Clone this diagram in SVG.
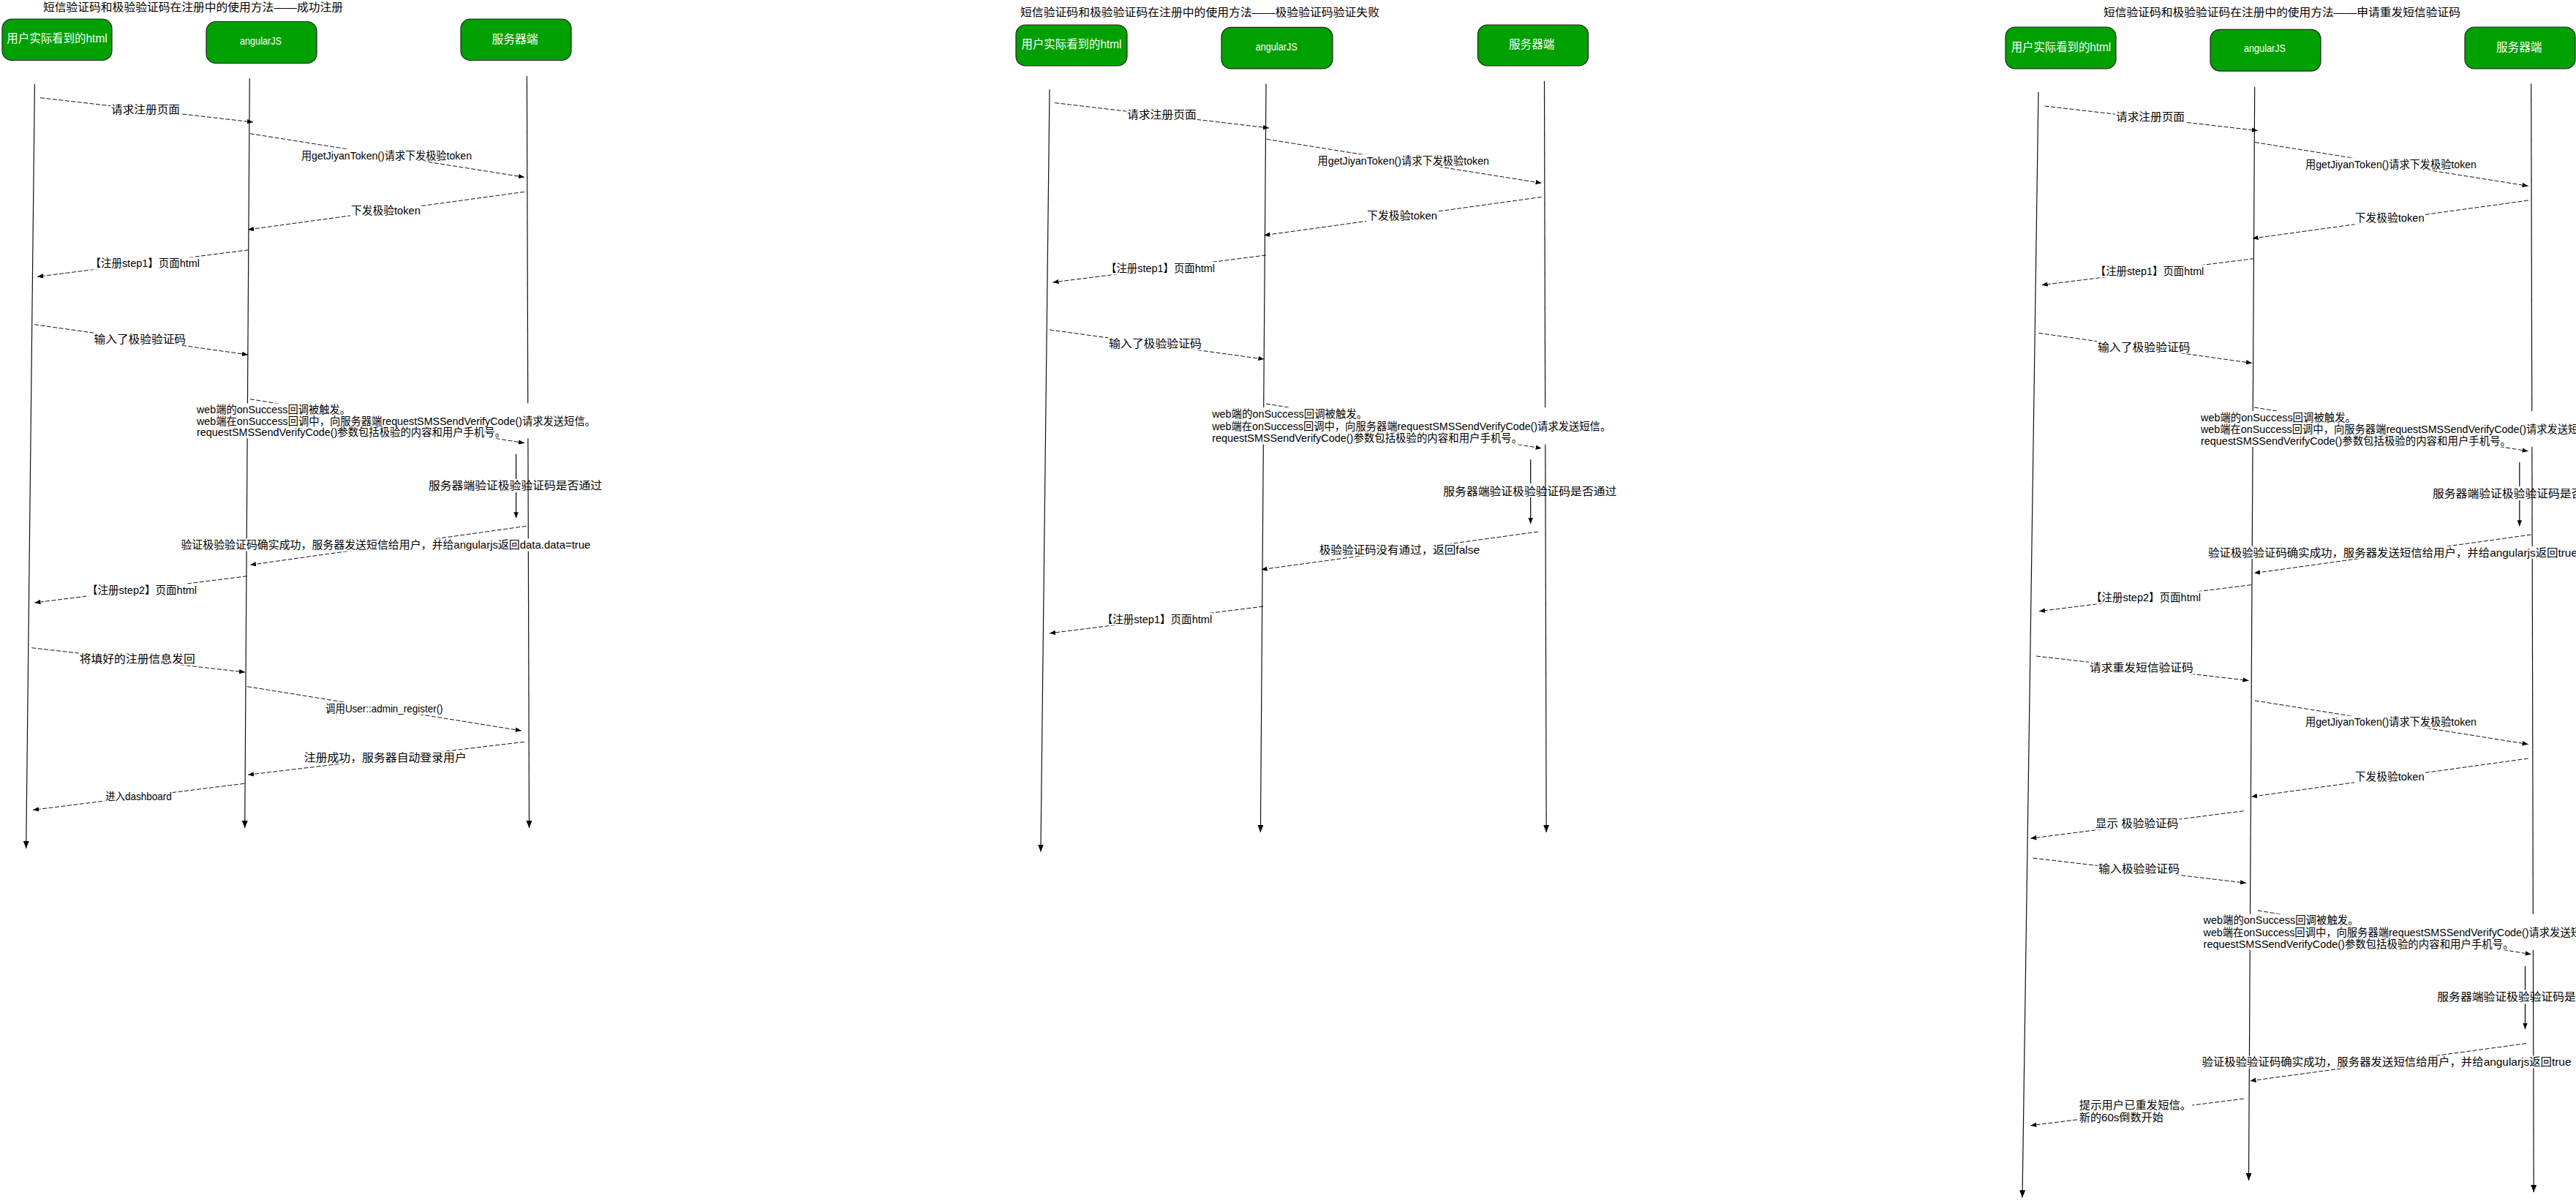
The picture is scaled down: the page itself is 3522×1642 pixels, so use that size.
<svg xmlns="http://www.w3.org/2000/svg" width="3522" height="1642" viewBox="0 0 3522 1642">
<style>
text{font-family:"Liberation Sans","Noto Sans CJK SC",sans-serif}
.ttl{font-size:14.5px;fill:#000}
.lbl{font-size:14.5px;fill:#000}
.ntxt{font-size:16px;fill:#fff}
.ntxt2{font-size:14px;fill:#fff}
.node rect{fill:#00a000;stroke:#222;stroke-width:1.2}
.life{stroke:#111;stroke-width:1.2;fill:none}
.msg{stroke:#111;stroke-width:1;stroke-dasharray:6 2.5;fill:none}
.chk{stroke:#000;stroke-width:1.2;fill:none}
.bg{fill:#fff}
</style>
<defs>
<marker id="ah" viewBox="0 0 10 8" refX="10" refY="4" markerWidth="8" markerHeight="7" markerUnits="userSpaceOnUse" orient="auto"><path d="M0,0 L10,4 L0,8 z" fill="#000"/></marker>
<marker id="lh" viewBox="0 0 10 8" refX="10" refY="4" markerWidth="10" markerHeight="8" markerUnits="userSpaceOnUse" orient="auto"><path d="M0,0 L10,4 L0,8 z" fill="#000"/></marker>
</defs>
<rect width="3522" height="1642" fill="#fff"/>

<g id="titles">
<text class="ttl" x="59" y="15.3" textLength="410" lengthAdjust="spacingAndGlyphs">短信验证码和极验验证码在注册中的使用方法——成功注册</text>
<text class="ttl" x="1395" y="22.4" textLength="491" lengthAdjust="spacingAndGlyphs">短信验证码和极验验证码在注册中的使用方法——极验验证码验证失败</text>
<text class="ttl" x="2876" y="22.3" textLength="488" lengthAdjust="spacingAndGlyphs">短信验证码和极验验证码在注册中的使用方法——申请重发短信验证码</text>
</g>

<g id="d1-user" class="node"><rect x="3" y="26" width="150" height="56.5" rx="13" ry="13"/><text class="ntxt" x="9.3" y="58" textLength="137.4" lengthAdjust="spacingAndGlyphs">用户实际看到的html</text></g>
<g id="d1-angular" class="node"><rect x="282" y="29.5" width="151" height="57" rx="13" ry="13"/><text class="ntxt2" x="328" y="61" textLength="57" lengthAdjust="spacingAndGlyphs">angularJS</text></g>
<g id="d1-server" class="node"><rect x="630" y="26" width="151" height="56.5" rx="13" ry="13"/><text class="ntxt" x="672.4" y="58.8" textLength="63.3" lengthAdjust="spacingAndGlyphs">服务器端</text></g>

<g id="d2-user" class="node"><rect x="1389" y="34" width="152" height="56" rx="13" ry="13"/><text class="ntxt" x="1396.5" y="66.2" textLength="137" lengthAdjust="spacingAndGlyphs">用户实际看到的html</text></g>
<g id="d2-angular" class="node"><rect x="1670" y="37.4" width="152" height="56.5" rx="13" ry="13"/><text class="ntxt2" x="1716.7" y="68.7" textLength="57" lengthAdjust="spacingAndGlyphs">angularJS</text></g>
<g id="d2-server" class="node"><rect x="2020.5" y="34" width="151" height="56" rx="13" ry="13"/><text class="ntxt" x="2063" y="66.2" textLength="62.5" lengthAdjust="spacingAndGlyphs">服务器端</text></g>

<g id="d3-user" class="node"><rect x="2742" y="37" width="151" height="57" rx="13" ry="13"/><text class="ntxt" x="2749.7" y="70.4" textLength="136.6" lengthAdjust="spacingAndGlyphs">用户实际看到的html</text></g>
<g id="d3-angular" class="node"><rect x="3022" y="40.4" width="151" height="56.7" rx="13" ry="13"/><text class="ntxt2" x="3068" y="70.9" textLength="57" lengthAdjust="spacingAndGlyphs">angularJS</text></g>
<g id="d3-server" class="node"><rect x="3370" y="37" width="151" height="57" rx="13" ry="13"/><text class="ntxt" x="3413" y="70.4" textLength="62.5" lengthAdjust="spacingAndGlyphs">服务器端</text></g>

<g id="lifelines">
<line class="life" x1="47.4" y1="115" x2="35.7" y2="1160" marker-end="url(#lh)"/>
<line class="life" x1="341.3" y1="107" x2="334.7" y2="1132" marker-end="url(#lh)"/>
<line class="life" x1="720.4" y1="104" x2="723.5" y2="1132" marker-end="url(#lh)"/>
<line class="life" x1="1435" y1="122.3" x2="1422.9" y2="1164.6" marker-end="url(#lh)"/>
<line class="life" x1="1731" y1="114.6" x2="1723.4" y2="1137.9" marker-end="url(#lh)"/>
<line class="life" x1="2111.5" y1="110.8" x2="2114.2" y2="1137.9" marker-end="url(#lh)"/>
<line class="life" x1="2787" y1="125.7" x2="2765" y2="1637.3" marker-end="url(#lh)"/>
<line class="life" x1="3082.7" y1="118.9" x2="3074.5" y2="1614" marker-end="url(#lh)"/>
<line class="life" x1="3460.7" y1="114.3" x2="3464.2" y2="1630" marker-end="url(#lh)"/>
</g>

<g id="connectors">
<!-- diagram 1 -->
<g><line class="msg" x1="55" y1="133.7" x2="346" y2="167" marker-end="url(#ah)"/><rect class="bg" x="151" y="141.5" width="96" height="17"/><text class="lbl" x="152" y="155.2" textLength="94" lengthAdjust="spacingAndGlyphs">请求注册页面</text></g>
<g><line class="msg" x1="342" y1="182.7" x2="717" y2="242.3" marker-end="url(#ah)"/><rect class="bg" x="411" y="203.8" width="235" height="17"/><text class="lbl" x="412" y="217.5" textLength="233" lengthAdjust="spacingAndGlyphs">用getJiyanToken()请求下发极验token</text></g>
<g><line class="msg" x1="717" y1="262.3" x2="339" y2="314" marker-end="url(#ah)"/><rect class="bg" x="479" y="278.8" width="97" height="17"/><text class="lbl" x="480" y="292.5" textLength="95" lengthAdjust="spacingAndGlyphs">下发极验token</text></g>
<g><line class="msg" x1="340" y1="341.7" x2="51" y2="378.3" marker-end="url(#ah)"/><rect class="bg" x="122.5" y="351.5" width="151.5" height="17"/><text class="lbl" x="123.5" y="365.2" textLength="149.5" lengthAdjust="spacingAndGlyphs">【注册step1】页面html</text></g>
<g><line class="msg" x1="47" y1="443.7" x2="339" y2="485" marker-end="url(#ah)"/><rect class="bg" x="127.6" y="454.8" width="127.4" height="17"/><text class="lbl" x="128.6" y="468.5" textLength="125.4" lengthAdjust="spacingAndGlyphs">输入了极验验证码</text></g>
<g><line class="msg" x1="342" y1="545.7" x2="717" y2="605.7" marker-end="url(#ah)"/><rect class="bg" x="268" y="551.3" width="547" height="48"/>
<text class="lbl" x="269" y="564.5" textLength="210" lengthAdjust="spacingAndGlyphs">web端的onSuccess回调被触发。</text>
<text class="lbl" x="269" y="580.5" textLength="545" lengthAdjust="spacingAndGlyphs">web端在onSuccess回调中，向服务器端requestSMSSendVerifyCode()请求发送短信。</text>
<text class="lbl" x="269" y="596.2" textLength="422" lengthAdjust="spacingAndGlyphs">requestSMSSendVerifyCode()参数包括极验的内容和用户手机号。</text></g>
<g><line class="chk" x1="705.6" y1="620.7" x2="705.6" y2="708.3" marker-end="url(#ah)"/><rect class="bg" x="700" y="655" width="11" height="18"/><text class="lbl" x="586" y="669.2" textLength="237" lengthAdjust="spacingAndGlyphs">服务器端验证极验验证码是否通过</text></g>
<g><line class="msg" x1="719.4" y1="719.3" x2="342" y2="772.3" marker-end="url(#ah)"/><rect class="bg" x="246.4" y="736.5" width="562" height="17"/><text class="lbl" x="247.4" y="750.2" textLength="560" lengthAdjust="spacingAndGlyphs">验证极验验证码确实成功，服务器发送短信给用户，并给angularjs返回data.data=true</text></g>
<g><line class="msg" x1="337.8" y1="787.7" x2="47.4" y2="824" marker-end="url(#ah)"/><rect class="bg" x="118" y="798" width="152" height="17"/><text class="lbl" x="119" y="811.7" textLength="150" lengthAdjust="spacingAndGlyphs">【注册step2】页面html</text></g>
<g><line class="msg" x1="43.4" y1="885.7" x2="335" y2="919" marker-end="url(#ah)"/><rect class="bg" x="107.7" y="892.5" width="160" height="17"/><text class="lbl" x="108.7" y="906.2" textLength="158" lengthAdjust="spacingAndGlyphs">将填好的注册信息发回</text></g>
<g><line class="msg" x1="338" y1="938.7" x2="712.8" y2="999" marker-end="url(#ah)"/><rect class="bg" x="444" y="959.8" width="162.6" height="17"/><text class="lbl" x="445" y="973.5" textLength="160.6" lengthAdjust="spacingAndGlyphs">调用User::admin_register()</text></g>
<g><line class="msg" x1="716.8" y1="1014.3" x2="339" y2="1059.3" marker-end="url(#ah)"/><rect class="bg" x="414.8" y="1027.2" width="224" height="17"/><text class="lbl" x="415.8" y="1040.9" textLength="222" lengthAdjust="spacingAndGlyphs">注册成功，服务器自动登录用户</text></g>
<g><line class="msg" x1="334" y1="1071.3" x2="45" y2="1107.3" marker-end="url(#ah)"/><rect class="bg" x="142.9" y="1080.2" width="93" height="17"/><text class="lbl" x="143.9" y="1093.9" textLength="91" lengthAdjust="spacingAndGlyphs">进入dashboard</text></g>

<!-- diagram 2 -->
<g><line class="msg" x1="1442.2" y1="140.6" x2="1735" y2="175" marker-end="url(#ah)"/><rect class="bg" x="1540" y="148.2" width="96.7" height="17"/><text class="lbl" x="1541" y="161.9" textLength="94.7" lengthAdjust="spacingAndGlyphs">请求注册页面</text></g>
<g><line class="msg" x1="1731.6" y1="190.3" x2="2107.6" y2="250.3" marker-end="url(#ah)"/><rect class="bg" x="1800.6" y="211.2" width="236.4" height="17"/><text class="lbl" x="1801.6" y="224.9" textLength="234.4" lengthAdjust="spacingAndGlyphs">用getJiyanToken()请求下发极验token</text></g>
<g><line class="msg" x1="2107.6" y1="269.4" x2="1728.3" y2="321.7" marker-end="url(#ah)"/><rect class="bg" x="1868" y="286.1" width="98" height="17"/><text class="lbl" x="1869" y="299.8" textLength="96" lengthAdjust="spacingAndGlyphs">下发极验token</text></g>
<g><line class="msg" x1="1731" y1="348.9" x2="1439.5" y2="386" marker-end="url(#ah)"/><rect class="bg" x="1511" y="358.3" width="151" height="17"/><text class="lbl" x="1512" y="372" textLength="149" lengthAdjust="spacingAndGlyphs">【注册step1】页面html</text></g>
<g><line class="msg" x1="1435" y1="450.9" x2="1728.3" y2="491" marker-end="url(#ah)"/><rect class="bg" x="1515" y="461.5" width="129" height="17"/><text class="lbl" x="1516" y="475.2" textLength="127" lengthAdjust="spacingAndGlyphs">输入了极验验证码</text></g>
<g><line class="msg" x1="1731" y1="552" x2="2107.6" y2="612.9" marker-end="url(#ah)"/><rect class="bg" x="1656.2" y="557" width="547" height="50.6"/>
<text class="lbl" x="1657.2" y="570.7" textLength="212" lengthAdjust="spacingAndGlyphs">web端的onSuccess回调被触发。</text>
<text class="lbl" x="1657.2" y="587.9" textLength="545" lengthAdjust="spacingAndGlyphs">web端在onSuccess回调中，向服务器端requestSMSSendVerifyCode()请求发送短信。</text>
<text class="lbl" x="1657.2" y="604.3" textLength="424" lengthAdjust="spacingAndGlyphs">requestSMSSendVerifyCode()参数包括极验的内容和用户手机号。</text></g>
<g><line class="chk" x1="2092.7" y1="628.3" x2="2092.7" y2="716" marker-end="url(#ah)"/><rect class="bg" x="2087" y="661" width="11" height="19"/><text class="lbl" x="1973.3" y="676.5" textLength="237" lengthAdjust="spacingAndGlyphs">服务器端验证极验验证码是否通过</text></g>
<g><line class="msg" x1="2103" y1="727" x2="1724.5" y2="778.7" marker-end="url(#ah)"/><rect class="bg" x="1802.8" y="743.1" width="221.4" height="17"/><text class="lbl" x="1803.8" y="756.8" textLength="219.4" lengthAdjust="spacingAndGlyphs">极验验证码没有通过，返回false</text></g>
<g><line class="msg" x1="1727.2" y1="829.1" x2="1435" y2="865.8" marker-end="url(#ah)"/><rect class="bg" x="1505.7" y="837.8" width="152.5" height="17"/><text class="lbl" x="1506.7" y="851.5" textLength="150.5" lengthAdjust="spacingAndGlyphs">【注册step1】页面html</text></g>

<!-- diagram 3 -->
<g><line class="msg" x1="2795.7" y1="145" x2="3086.8" y2="178.6" marker-end="url(#ah)"/><rect class="bg" x="2892" y="151.5" width="96" height="17"/><text class="lbl" x="2893" y="165.2" textLength="94" lengthAdjust="spacingAndGlyphs">请求注册页面</text></g>
<g><line class="msg" x1="3083" y1="194.6" x2="3456.6" y2="254.3" marker-end="url(#ah)"/><rect class="bg" x="3151" y="215.8" width="236" height="17"/><text class="lbl" x="3152" y="229.5" textLength="234" lengthAdjust="spacingAndGlyphs">用getJiyanToken()请求下发极验token</text></g>
<g><line class="msg" x1="3456.6" y1="274" x2="3079.6" y2="326" marker-end="url(#ah)"/><rect class="bg" x="3218.7" y="289.7" width="97" height="17"/><text class="lbl" x="3219.7" y="303.4" textLength="95" lengthAdjust="spacingAndGlyphs">下发极验token</text></g>
<g><line class="msg" x1="3082" y1="353.6" x2="2791.6" y2="389.6" marker-end="url(#ah)"/><rect class="bg" x="2863.8" y="362.2" width="150.5" height="17"/><text class="lbl" x="2864.8" y="375.9" textLength="148.5" lengthAdjust="spacingAndGlyphs">【注册step1】页面html</text></g>
<g><line class="msg" x1="2787.5" y1="455.4" x2="3079" y2="496.4" marker-end="url(#ah)"/><rect class="bg" x="2867" y="465.8" width="128.7" height="17"/><text class="lbl" x="2868" y="479.5" textLength="126.7" lengthAdjust="spacingAndGlyphs">输入了极验验证码</text></g>
<g><line class="msg" x1="3082" y1="557" x2="3456.6" y2="616.8" marker-end="url(#ah)"/><rect class="bg" x="3008" y="562" width="520" height="49"/>
<text class="lbl" x="3009" y="575.6" textLength="212" lengthAdjust="spacingAndGlyphs">web端的onSuccess回调被触发。</text>
<text class="lbl" x="3009" y="591.6" textLength="545" lengthAdjust="spacingAndGlyphs">web端在onSuccess回调中，向服务器端requestSMSSendVerifyCode()请求发送短信。</text>
<text class="lbl" x="3009" y="607.7" textLength="424" lengthAdjust="spacingAndGlyphs">requestSMSSendVerifyCode()参数包括极验的内容和用户手机号。</text></g>
<g><line class="chk" x1="3444.8" y1="632" x2="3444.8" y2="719.3" marker-end="url(#ah)"/><rect class="bg" x="3439" y="665" width="11" height="19"/><text class="lbl" x="3326" y="679.8" textLength="237" lengthAdjust="spacingAndGlyphs">服务器端验证极验验证码是否通过</text></g>
<g><line class="msg" x1="3460.7" y1="731" x2="3082" y2="783.6" marker-end="url(#ah)"/><rect class="bg" x="3018" y="746.9" width="507" height="17"/><text class="lbl" x="3019" y="760.6" textLength="505" lengthAdjust="spacingAndGlyphs">验证极验验证码确实成功，服务器发送短信给用户，并给angularjs返回true</text></g>
<g><line class="msg" x1="3078" y1="799.6" x2="2788" y2="835.7" marker-end="url(#ah)"/><rect class="bg" x="2858" y="808.3" width="152" height="17"/><text class="lbl" x="2859" y="822" textLength="150" lengthAdjust="spacingAndGlyphs">【注册step2】页面html</text></g>
<g><line class="msg" x1="2784" y1="897" x2="3074.5" y2="930.4" marker-end="url(#ah)"/><rect class="bg" x="2856" y="904.7" width="143.8" height="17"/><text class="lbl" x="2857" y="918.4" textLength="141.8" lengthAdjust="spacingAndGlyphs">请求重发短信验证码</text></g>
<g><line class="msg" x1="3083" y1="957.9" x2="3456.6" y2="1017.5" marker-end="url(#ah)"/><rect class="bg" x="3151" y="978.6" width="236" height="17"/><text class="lbl" x="3152" y="992.3" textLength="234" lengthAdjust="spacingAndGlyphs">用getJiyanToken()请求下发极验token</text></g>
<g><line class="msg" x1="3456.6" y1="1037" x2="3078" y2="1089.3" marker-end="url(#ah)"/><rect class="bg" x="3218.7" y="1053.6" width="97" height="17"/><text class="lbl" x="3219.7" y="1067.3" textLength="95" lengthAdjust="spacingAndGlyphs">下发极验token</text></g>
<g><line class="msg" x1="3067.8" y1="1108.7" x2="2776.3" y2="1146.3" marker-end="url(#ah)"/><rect class="bg" x="2863.8" y="1117.4" width="115.5" height="17"/><text class="lbl" x="2864.8" y="1131.1" textLength="113.5" lengthAdjust="spacingAndGlyphs">显示 极验验证码</text></g>
<g><line class="msg" x1="2779.8" y1="1173.2" x2="3071" y2="1207.2" marker-end="url(#ah)"/><rect class="bg" x="2868" y="1179.7" width="113" height="17"/><text class="lbl" x="2869" y="1193.4" textLength="111" lengthAdjust="spacingAndGlyphs">输入极验验证码</text></g>
<g><line class="msg" x1="3086.8" y1="1244.9" x2="3460.7" y2="1304.7" marker-end="url(#ah)"/><rect class="bg" x="3011.6" y="1249.6" width="515" height="49.3"/>
<text class="lbl" x="3012.6" y="1263.3" textLength="212" lengthAdjust="spacingAndGlyphs">web端的onSuccess回调被触发。</text>
<text class="lbl" x="3012.6" y="1279.8" textLength="545" lengthAdjust="spacingAndGlyphs">web端在onSuccess回调中，向服务器端requestSMSSendVerifyCode()请求发送短信。</text>
<text class="lbl" x="3012.6" y="1295.6" textLength="424" lengthAdjust="spacingAndGlyphs">requestSMSSendVerifyCode()参数包括极验的内容和用户手机号。</text></g>
<g><line class="chk" x1="3452.5" y1="1320.9" x2="3452.5" y2="1406.9" marker-end="url(#ah)"/><rect class="bg" x="3447" y="1353.5" width="11" height="19"/><text class="lbl" x="3332.3" y="1368.4" textLength="237" lengthAdjust="spacingAndGlyphs">服务器端验证极验验证码是否通过</text></g>
<g><line class="msg" x1="3454" y1="1426.6" x2="3076.5" y2="1477.8" marker-end="url(#ah)"/><rect class="bg" x="3009.5" y="1443.5" width="507" height="17"/><text class="lbl" x="3010.5" y="1457.2" textLength="505" lengthAdjust="spacingAndGlyphs">验证极验验证码确实成功，服务器发送短信给用户，并给angularjs返回true</text></g>
<g><line class="msg" x1="3067.8" y1="1502.2" x2="2776.3" y2="1538.8" marker-end="url(#ah)"/><rect class="bg" x="2841.8" y="1502.7" width="155.4" height="33"/>
<text class="lbl" x="2842.8" y="1516.4" textLength="153.4" lengthAdjust="spacingAndGlyphs">提示用户已重发短信。</text>
<text class="lbl" x="2842.8" y="1532.5" textLength="115" lengthAdjust="spacingAndGlyphs">新的60s倒数开始</text></g>
</g>
</svg>
